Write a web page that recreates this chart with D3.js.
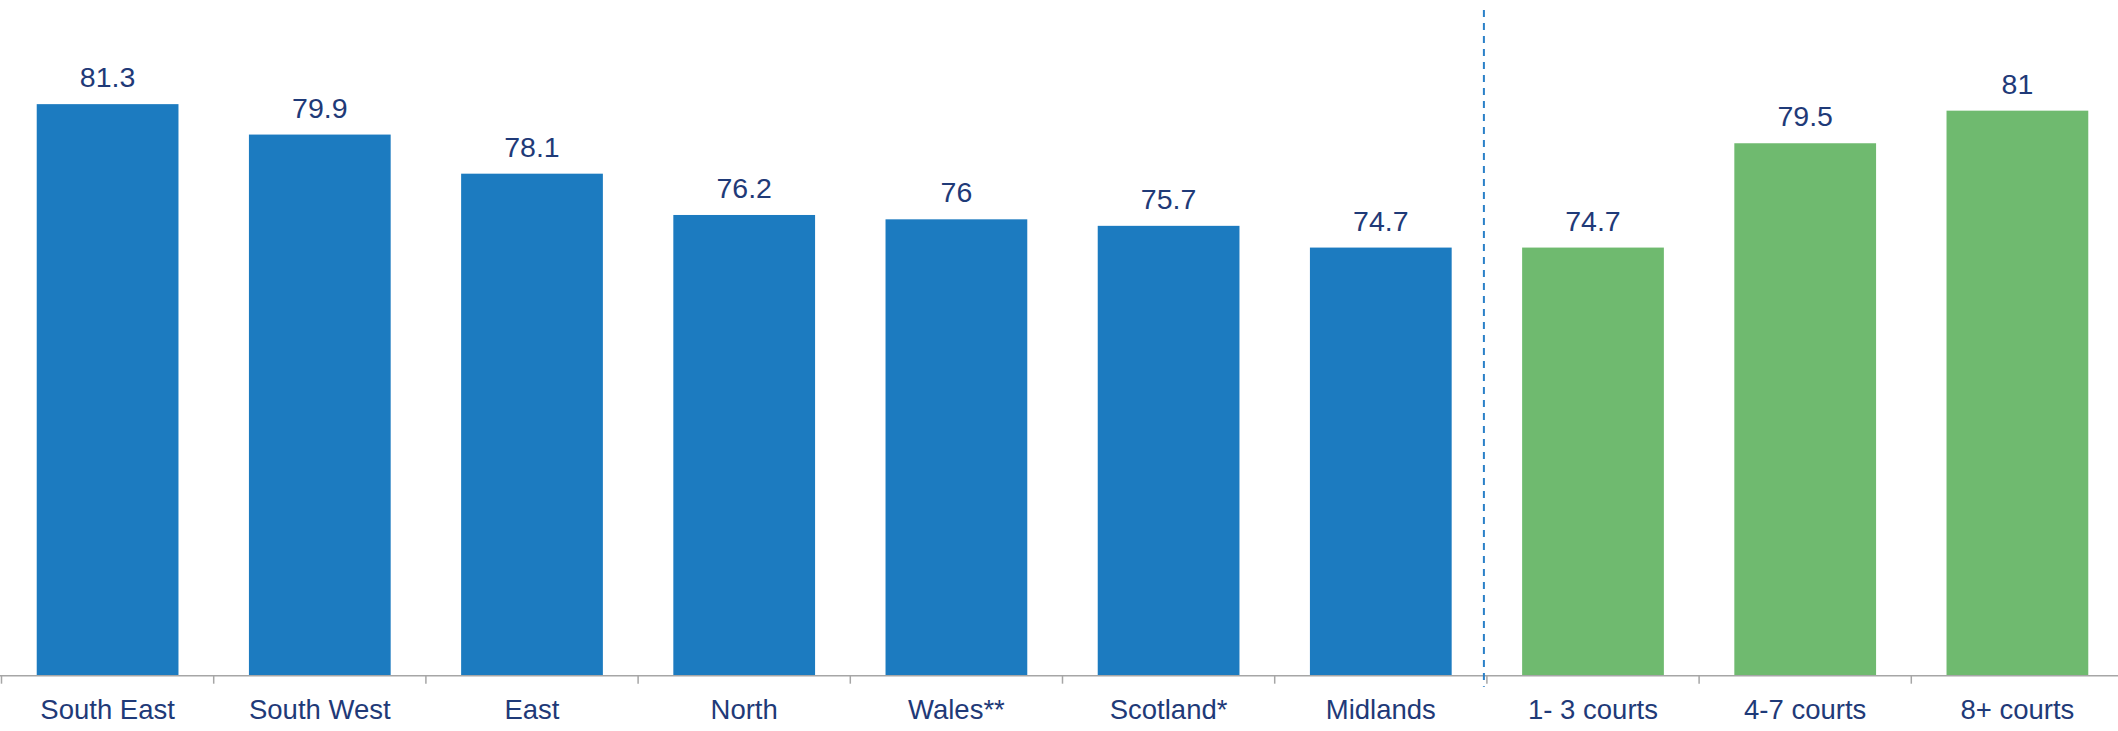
<!DOCTYPE html>
<html>
<head>
<meta charset="utf-8">
<script src="https://cdn.jsdelivr.net/npm/d3@7"></script>
<style>
  html, body { margin: 0; padding: 0; background: #ffffff; }
  svg { display: block; }
  text { font-family: "Liberation Sans", Arial, sans-serif; }
</style>
</head>
<body>
<svg id="chart" width="2118" height="731"></svg>
<script>
// Regions and court-size groups
const categories = ["South East", "South West", "East", "North", "Wales**", "Scotland*", "Midlands", "1- 3 courts", "4-7 courts", "8+ courts"];
const values = [81.3, 79.9, 78.1, 76.2, 76, 75.7, 74.7, 74.7, 79.5, 81];
const groups = ["region", "region", "region", "region", "region", "region", "region", "courts", "courts", "courts"];
const yDomain = [55, 86];

const width = 2118, height = 731;
const margin = { left: 1.5, right: -5.5, top: 2, bottom: 55.3 };

const svg = d3.select("#chart");

const x = d3.scaleBand()
  .domain(categories)
  .range([margin.left, width - margin.right])
  .paddingInner(0.332)
  .paddingOuter(0.166);

const y = d3.scaleLinear()
  .domain(yDomain)
  .range([height - margin.bottom, margin.top]);

const color = d3.scaleOrdinal()
  .domain(["region", "courts"])
  .range(["#1c7bc0", "#6fba6f"]);

const rows = categories.map((c, i) => ({ cat: c, value: values[i], group: groups[i] }));

// Bars
svg.append("g")
  .selectAll("rect")
  .data(rows)
  .join("rect")
  .attr("x", d => x(d.cat))
  .attr("y", d => y(d.value))
  .attr("width", x.bandwidth())
  .attr("height", d => y(yDomain[0]) - y(d.value))
  .attr("fill", d => color(d.group));

// Value labels
svg.append("g")
  .selectAll("text")
  .data(rows)
  .join("text")
  .attr("x", d => x(d.cat) + x.bandwidth() / 2)
  .attr("y", d => y(d.value) - 17)
  .attr("text-anchor", "middle")
  .attr("font-size", "28.5px")
  .attr("fill", "#1f3a78")
  .text(d => String(d.value));

// Category axis
const baseY = y(yDomain[0]);
const step = x.step();
const start = x.range()[0];
const axis = svg.append("g");
axis.append("line")
  .attr("x1", 0).attr("x2", width)
  .attr("y1", baseY).attr("y2", baseY)
  .attr("stroke", "#a6a6a6").attr("stroke-width", 1.5);

axis.selectAll("line.tick")
  .data(d3.range(categories.length + 1))
  .join("line")
  .attr("class", "tick")
  .attr("x1", i => start + i * step)
  .attr("x2", i => start + i * step)
  .attr("y1", baseY).attr("y2", baseY + 8)
  .attr("stroke", "#a6a6a6").attr("stroke-width", 1.5);

axis.selectAll("text")
  .data(categories)
  .join("text")
  .attr("x", d => x(d) + x.bandwidth() / 2)
  .attr("y", baseY + 43)
  .attr("text-anchor", "middle")
  .attr("font-size", "27.5px")
  .attr("fill", "#1f3a78")
  .text(d => d);

// Divider between regions and court-size groups
const divX = start + categories.indexOf("1- 3 courts") * step - 3;
svg.append("line")
  .attr("x1", divX).attr("x2", divX)
  .attr("y1", 10).attr("y2", baseY + 11)
  .attr("stroke", "#2a80c8")
  .attr("stroke-width", 2)
  .attr("stroke-dasharray", "7,6");
</script>
</body>
</html>
